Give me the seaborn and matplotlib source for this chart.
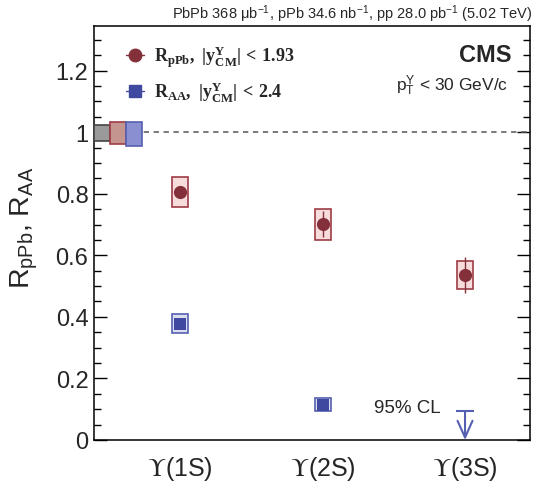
import numpy as np
import pandas as pd
import matplotlib
matplotlib.use("Agg")
import matplotlib.pyplot as plt
from matplotlib.patches import Rectangle
from matplotlib.lines import Line2D
from matplotlib.ticker import MultipleLocator, FuncFormatter
import seaborn as sns

# ---------------- data ----------------
states = ["$\\mathcal{\\Upsilon}$(1S)", "$\\mathcal{\\Upsilon}$(2S)", "$\\mathcal{\\Upsilon}$(3S)"]
rpPb_val = [0.805, 0.701, 0.536]
rpPb_stat = [0.020, 0.043, 0.058]
rpPb_syst = [0.049, 0.050, 0.045]

rAA_val = [0.377, 0.114]          # 1S, 2S
rAA_stat = [0.010, 0.014]
rAA_syst = [0.031, 0.021]
rAA_3S_limit = 0.094              # 95% CL upper limit

# global uncertainties at unity (lower, upper)
glob_names = ["pp", "pPb", "PbPb"]
glob_lo = [0.972, 0.963, 0.956]
glob_hi = [1.023, 1.034, 1.034]

# ---------------- style ----------------
sns.set_theme(style="ticks")
plt.rcParams["font.family"] = ["Liberation Sans", "DejaVu Sans"]
plt.rcParams["mathtext.fontset"] = "custom"
plt.rcParams["mathtext.rm"] = "Liberation Sans"
plt.rcParams["mathtext.sf"] = "Liberation Sans"
plt.rcParams["mathtext.it"] = "Liberation Sans:italic"
plt.rcParams["mathtext.bf"] = "Liberation Serif:bold"
plt.rcParams["mathtext.cal"] = "STIXGeneral"

red = "#84303b"
red_edge = "#9e3c46"
red_fill = "#f7dcdc"
red_glob = "#c4948f"
blue = "#4049a0"
blue_edge = "#5560b0"
blue_fill = "#dcdef0"
blue_glob = "#8a8fd2"
gray_glob = "#9a9a9a"

fig = plt.figure(figsize=(5.36, 4.89), dpi=100)
ax = fig.add_axes([94/536, 1-441/489, 436/536, 414/489])

x = np.arange(len(states))
half_w = 0.056

# systematic boxes
for xi, v, s in zip(x, rpPb_val, rpPb_syst):
    ax.add_patch(Rectangle((xi - half_w, v - s), 2*half_w, 2*s,
                           facecolor=red_fill, edgecolor=red_edge, lw=1.2, zorder=2))
for xi, v, s in zip(x[:2], rAA_val, rAA_syst):
    ax.add_patch(Rectangle((xi - half_w, v - s), 2*half_w, 2*s,
                           facecolor=blue_fill, edgecolor=blue_edge, lw=1.2, zorder=2))

# stat error bars
ax.errorbar(x, rpPb_val, yerr=rpPb_stat, fmt="none", ecolor=red, elinewidth=1.0, zorder=3)
ax.errorbar(x[:2], rAA_val, yerr=rAA_stat, fmt="none", ecolor=blue, elinewidth=1.0, zorder=3)

# markers via seaborn
df_p = pd.DataFrame({"x": x, "y": rpPb_val})
df_a = pd.DataFrame({"x": x[:2], "y": rAA_val})
sns.scatterplot(data=df_p, x="x", y="y", ax=ax, marker="o", s=90, color=red,
                edgecolor=red, linewidth=0, zorder=4, legend=False)
sns.scatterplot(data=df_a, x="x", y="y", ax=ax, marker="s", s=75, color=blue,
                edgecolor=blue, linewidth=0, zorder=4, legend=False)

# upper limit arrow for 3S RAA
xl = x[2]
ax.hlines(rAA_3S_limit, xl - 0.065, xl + 0.065, color=blue_edge, lw=1.5, zorder=3)
ax.annotate("", xy=(xl, 0.0), xytext=(xl, rAA_3S_limit),
            arrowprops=dict(arrowstyle="->,head_length=1.0,head_width=0.45",
                            color=blue_edge, lw=1.5, shrinkA=0, shrinkB=0), zorder=3)
ax.text(xl - 0.64, 0.105, "95% CL", fontsize=13.5, ha="left", va="center")

# xlim / ylim
xmin, xmax = -0.604, 2.456
ax.set_xlim(xmin, xmax)
ax.set_ylim(0, 1.345)

# global uncertainty boxes
gfills = [gray_glob, red_glob, blue_glob]
gedges = ["#444444", red_edge, blue_edge]
for i, (lo, hi) in enumerate(zip(glob_lo, glob_hi)):
    ax.add_patch(Rectangle((xmin + i*2*half_w, lo), 2*half_w, hi - lo,
                           facecolor=gfills[i], edgecolor=gedges[i], lw=1.2, zorder=3,
                           clip_on=False))

# unity line
ax.axhline(1.0, color="#555555", lw=1.1, ls=(0, (3.5, 3)), zorder=1)

# axes formatting
ax.set_xticks(x)
ax.set_xticklabels(states, fontsize=18)
ax.tick_params(axis="x", length=0, pad=10)
ax.yaxis.set_major_locator(MultipleLocator(0.2))
ax.yaxis.set_minor_locator(MultipleLocator(0.05))
ax.yaxis.set_major_formatter(FuncFormatter(lambda v, p: "%g" % round(v, 3)))
ax.tick_params(axis="y", which="both", direction="in", left=True, right=True,
               labelsize=17, width=1.0, color="black")
ax.tick_params(axis="y", which="major", length=9.5, pad=4)
ax.tick_params(axis="y", which="minor", length=5)
for sp in ax.spines.values():
    sp.set_linewidth(1.1)
    sp.set_color("black")
ax.set_xlabel("")
ax.set_ylabel("R$_{\\mathrm{pPb}}$, R$_{\\mathrm{AA}}$", fontsize=20.5)
ax.yaxis.set_label_coords(-0.124, 0.515)

# texts
fig.text(532/536, 1-14/489, "PbPb 368 $\\mathrm{\\mu}$b$^{\\mathrm{-1}}$, pPb 34.6 nb$^{\\mathrm{-1}}$, pp 28.0 pb$^{\\mathrm{-1}}$ (5.02 TeV)",
         ha="right", va="center", fontsize=10.5)
ax.text(511/536, 1-55/489, "CMS", transform=fig.transFigure, ha="right", va="center",
        fontsize=17, fontweight="bold")
ax.text(508/536, 1-86/489, "p$_{\\mathrm{T}}^{\\mathrm{\\Upsilon}}$ < 30 GeV/c",
        transform=fig.transFigure, ha="right", va="center", fontsize=12.5)

# legend
h1 = Line2D([], [], color=red, marker="o", markersize=9, lw=1.0)
h2 = Line2D([], [], color=blue, marker="s", markersize=8.5, lw=1.0)
leg = ax.legend([h1, h2],
                ["$\\mathbf{R_{pPb},\\ |y^{\\Upsilon}_{CM}|\\,<\\,1.93}$",
                 "$\\mathbf{R_{AA},\\ |y^{\\Upsilon}_{CM}|\\,<\\,2.4}$"],
                loc="upper left", bbox_to_anchor=(0.035, 0.998), frameon=False,
                fontsize=13, handlelength=1.0, handletextpad=0.6, labelspacing=0.6)

fig.savefig("out.png", dpi=100)
